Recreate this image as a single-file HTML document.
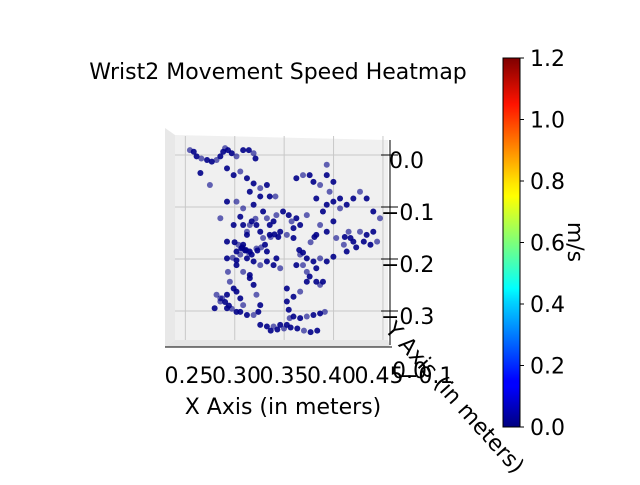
<!DOCTYPE html>
<html><head><meta charset="utf-8"><style>
body{margin:0;background:#fff;}
svg text{font-family:"DejaVu Sans","Liberation Sans",sans-serif;fill:#000;}
</style></head><body>
<svg id="chart" width="640" height="480" viewBox="0 0 640 480" xmlns="http://www.w3.org/2000/svg">
<defs>
<linearGradient id="jet" x1="0" y1="1" x2="0" y2="0">
<stop offset="0" stop-color="#00007f"/><stop offset="0.11" stop-color="#0000ff"/>
<stop offset="0.125" stop-color="#0000ff"/><stop offset="0.34" stop-color="#00d4ff"/>
<stop offset="0.375" stop-color="#00ffff"/><stop offset="0.5" stop-color="#7dff7a"/>
<stop offset="0.625" stop-color="#ffff00"/><stop offset="0.66" stop-color="#ffe600"/>
<stop offset="0.875" stop-color="#ff1300"/><stop offset="1" stop-color="#7f0000"/>
</linearGradient>
</defs>
<text x="278" y="79" font-size="22" text-anchor="middle">Wrist2 Movement Speed Heatmap</text>
<g>
<polygon points="175,135 388,140 388,340 175,340" fill="#f0f0f0"/>
<polygon points="165,128 175,135 175,340 165,347" fill="#e8e8e8"/>
<polygon points="165,347 175,340 388,340 390,347" fill="#e6e6e6"/>
</g>
<g id="grid" stroke="#c8c8c8" stroke-width="1"></g>
<line x1="165" y1="347" x2="392" y2="347" stroke="#000" stroke-width="1"/>
<line x1="390" y1="140" x2="390" y2="345" stroke="#000" stroke-width="1"/>
<g id="points"></g>
<g id="xticks"></g>
<g id="zticks"></g>
<text x="283" y="414" font-size="22" text-anchor="middle">X Axis (in meters)</text>
<text x="0" y="0" font-size="22" transform="translate(384,330) rotate(48)">Y Axis (in meters)</text>
<text x="392" y="378" font-size="22">0.0</text>
<text x="400" y="383" font-size="22">−0.1</text>
<rect x="503" y="58" width="17" height="369" fill="url(#jet)" stroke="#000" stroke-width="1"/>
<g id="cbticks"></g>
<text x="0" y="0" font-size="22" text-anchor="middle" transform="translate(568,242) rotate(90)">m/s</text>
</svg>
<script>
const xTicks=[0.25,0.30,0.35,0.40,0.45];
const xTickLabels=["0.25","0.30","0.35","0.40","0.45"];
const zTicks=[0.0,-0.1,-0.2,-0.3];
const zTickLabels=["0.0","−0.1","−0.2","−0.3"];
const cbTicks=[0,0.2,0.4,0.6,0.8,1.0,1.2];
const cbTickLabels=["0.0","0.2","0.4","0.6","0.8","1.0","1.2"];
const ptX=[.251,.255,.258,.263,.269,.274,.279,.283,.286,.288,.291,.295,.300,.307,.313,.318,.320,
.262,.272,.290,.297,.304,.311,.318,.325,.332,.335,.341,.325,.318,.307,.304,.290,.300,.314,
.328,.332,.335,.339,.342,.349,.355,.358,.363,.360,.353,.346,.335,.328,.325,.321,.314,.311,.307,.304,.311,.318,.325,.332,.339,.346,.342,.332,.321,.314,.300,.307,.314,
.277,.283,.290,.297,.293,.300,.304,.307,.304,.311,.318,.323,.325,.321,.318,.314,.283,.290,.300,.279,
.325,.332,.339,.346,.353,.356,.360,.367,.374,.381,.388,.393,.355,.353,
.367,.374,.381,.388,.395,.402,.374,.377,.384,.388,.391,.384,.370,.363,.374,.367,.360,.353,
.395,.395,.402,.398,.395,.391,.388,.395,.402,.409,.416,.423,.430,.437,.444,.451,.444,.437,.430,.423,.416,.413,.420,.434,.448,.402,.409,.388,.381,.363,.370,.377,.384,.374,.367,.360,.405,.384,
.290,.291,.300,.307,.311,.297,.290,.283,
.305,.309,.313,.316,.322,.326,.330,.298,.302,.306,.310,.336,.340,.344,.296,.300,.316,.320,.366,.370,.378,.382,.414,.418,.426,.441,.285,.288,.292,.295,.336,.343,.350,.357,.364,.371,.378,.385];
const ptZ=[.017,.014,.005,.001,-.002,-.005,-.002,.005,.014,.021,.017,.011,.005,.017,.017,.011,.001,
-.027,-.050,-.018,-.031,-.024,-.037,-.047,-.056,-.050,-.072,-.072,-.072,-.088,-.095,-.111,-.082,-.082,-.063,
-.101,-.114,-.127,-.120,-.108,-.101,-.108,-.120,-.114,-.133,-.146,-.140,-.146,-.152,-.140,-.127,-.127,-.146,-.165,-.184,-.191,-.197,-.204,-.197,-.204,-.210,-.191,-.178,-.172,-.178,-.204,-.217,-.223,
-.287,-.274,-.261,-.249,-.236,-.255,-.268,-.281,-.294,-.300,-.300,-.294,-.281,-.261,-.242,-.229,-.268,-.287,-.294,-.261,
-.319,-.322,-.322,-.319,-.319,-.306,-.303,-.306,-.303,-.300,-.297,-.294,-.290,-.274,
-.184,-.191,-.197,-.191,-.197,-.188,-.217,-.226,-.236,-.242,-.236,-.210,-.204,-.204,-.236,-.255,-.265,-.249,
-.011,-.031,-.044,-.063,-.088,-.101,-.127,-.140,-.120,-.095,-.088,-.076,-.063,-.076,-.101,-.114,-.140,-.146,-.140,-.159,-.178,-.165,-.152,-.159,-.159,-.082,-.076,-.050,-.044,-.037,-.031,-.031,-.076,-.108,-.127,-.152,-.152,-.146,
-.191,-.217,-.178,-.127,-.140,-.127,-.159,-.114,
-.172,-.176,-.180,-.184,-.176,-.170,-.165,-.160,-.165,-.170,-.175,-.150,-.145,-.150,-.190,-.195,-.120,-.115,-.175,-.180,-.160,-.150,-.150,-.140,-.170,-.165,-.268,-.275,-.282,-.288,-.330,-.328,-.326,-.324,-.326,-.330,-.333,-.330];
const NS="http://www.w3.org/2000/svg";
function sx(v){return 189+(v-0.25)*950;}
function sz(v){return 159-v*520;}
function cy(v){return 427-v/1.2*369;}
const grid=document.getElementById('grid');
xTicks.forEach(v=>{const l=document.createElementNS(NS,'line');


const x=sx(v);l.setAttribute('x1',x+ (x-280)*0.04);l.setAttribute('y1',136);l.setAttribute('x2',x+(x-280)*0.04);l.setAttribute('y2',340);grid.appendChild(l);});
zTicks.forEach(v=>{const l=document.createElementNS(NS,'line');


const y=sz(v)-4;l.setAttribute('x1',175);l.setAttribute('y1',y);l.setAttribute('x2',388);l.setAttribute('y2',y);grid.appendChild(l);});
const pts=document.getElementById('points');
ptX.forEach((v,i)=>{const c=document.createElementNS(NS,'circle');


c.setAttribute('cx',sx(v));c.setAttribute('cy',sz(ptZ[i]));c.setAttribute('r',3);
c.setAttribute('fill','#000088');c.setAttribute('fill-opacity',i%3===0?0.6:0.9);pts.appendChild(c);});
const xt=document.getElementById('xticks');
xTicks.forEach((v,i)=>{const t=document.createElementNS(NS,'text');


t.setAttribute('x',sx(v));t.setAttribute('y',383);t.setAttribute('font-size','22');t.setAttribute('text-anchor','middle');t.textContent=xTickLabels[i];xt.appendChild(t);});
const zt=document.getElementById('zticks');
zTicks.forEach((v,i)=>{const y=sz(v);
const l=document.createElementNS(NS,'line');


l.setAttribute('x1',381);l.setAttribute('x2',398);l.setAttribute('y1',y-4);l.setAttribute('y2',y-4);l.setAttribute('stroke','#000');zt.appendChild(l);
const t=document.createElementNS(NS,'text');


t.setAttribute('x',v===0?389:381);t.setAttribute('y',y+9);t.setAttribute('font-size','22');t.textContent=zTickLabels[i];zt.appendChild(t);});
const cb=document.getElementById('cbticks');
cbTicks.forEach((v,i)=>{const y=cy(v);
const l=document.createElementNS(NS,'line');


l.setAttribute('x1',520);l.setAttribute('x2',524);l.setAttribute('y1',y);l.setAttribute('y2',y);l.setAttribute('stroke','#000');cb.appendChild(l);
const t=document.createElementNS(NS,'text');


t.setAttribute('x',530);t.setAttribute('y',y+8);t.setAttribute('font-size','22');t.textContent=cbTickLabels[i];cb.appendChild(t);});
</script>
</body></html>
